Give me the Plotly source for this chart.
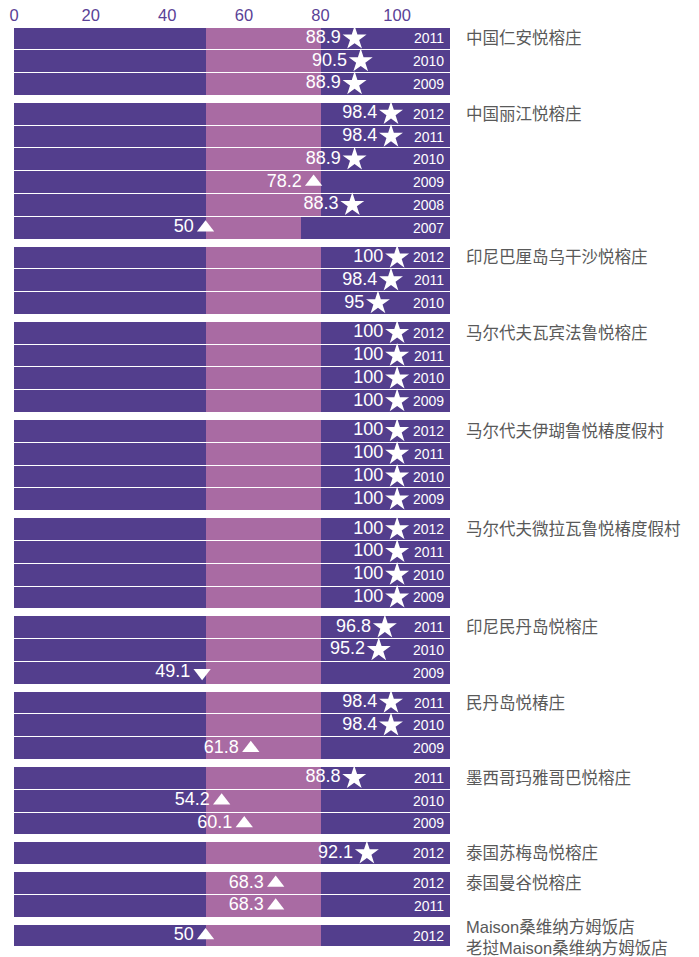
import plotly.graph_objects as go

# ---------------- data ----------------
hotels = [
    "中国仁安悦榕庄",
    "中国丽江悦榕庄",
    "印尼巴厘岛乌干沙悦榕庄",
    "马尔代夫瓦宾法鲁悦榕庄",
    "马尔代夫伊瑚鲁悦椿度假村",
    "马尔代夫微拉瓦鲁悦椿度假村",
    "印尼民丹岛悦榕庄",
    "民丹岛悦椿庄",
    "墨西哥玛雅哥巴悦榕庄",
    "泰国苏梅岛悦榕庄",
    "泰国曼谷悦榕庄",
    "Maison桑维纳方姆饭店<br>老挝Maison桑维纳方姆饭店",
]
years = [
    [2011, 2010, 2009],
    [2012, 2011, 2010, 2009, 2008, 2007],
    [2012, 2011, 2010],
    [2012, 2011, 2010, 2009],
    [2012, 2011, 2010, 2009],
    [2012, 2011, 2010, 2009],
    [2011, 2010, 2009],
    [2011, 2010, 2009],
    [2011, 2010, 2009],
    [2012],
    [2012, 2011],
    [2012],
]
scores = [
    [88.9, 90.5, 88.9],
    [98.4, 98.4, 88.9, 78.2, 88.3, 50],
    [100, 98.4, 95],
    [100, 100, 100, 100],
    [100, 100, 100, 100],
    [100, 100, 100, 100],
    [96.8, 95.2, 49.1],
    [98.4, 98.4, 61.8],
    [88.8, 54.2, 60.1],
    [92.1],
    [68.3, 68.3],
    [50],
]
band_low = 50
band_high = 80
band_high_override = {(1, 2007): 75}
scale_max = 113.8

# ---------------- styling ----------------
PURPLE = "#533e8d"
PINK = "#a96ba3"
NAME_GRAY = "#595959"
TICK_PURPLE = "#5a4196"
GAP = 0.307  # gap between groups in row units

rows_y, rows_val, rows_year, rows_band = [], [], [], []
group_first_y = []
pos = 0.0
for gi, (yrs, vals) in enumerate(zip(years, scores)):
    group_first_y.append(pos)
    for yr, v in zip(yrs, vals):
        rows_y.append(pos)
        rows_val.append(v)
        rows_year.append(yr)
        rows_band.append(band_high_override.get((gi, yr), band_high) - band_low)
        pos += 1
    pos += GAP
total = pos - GAP

def symbol_for(v):
    if v > band_high:
        return "star"
    if v >= band_low:
        return "triangle-up"
    return "triangle-down"

symbols = [symbol_for(v) for v in rows_val]
sizes = [18 if s == "star" else 15 for s in symbols]

fig = go.Figure()
bw = 1 - 0.045
fig.add_trace(go.Bar(
    x=[scale_max] * len(rows_y), y=rows_y, orientation="h", width=bw,
    marker=dict(color=PURPLE, line=dict(width=0)), hoverinfo="skip", showlegend=False,
))
fig.add_trace(go.Bar(
    x=rows_band, base=[band_low] * len(rows_y), y=rows_y, orientation="h", width=bw,
    marker=dict(color=PINK, line=dict(width=0)), hoverinfo="skip", showlegend=False,
))
fig.add_trace(go.Scatter(
    x=rows_val, y=rows_y, mode="markers+text",
    text=[("%g" % v) + "\u200a" for v in rows_val], textposition="middle left",
    textfont=dict(family="Liberation Sans, Arial, sans-serif", size=18, color="white"),
    marker=dict(symbol=symbols, size=sizes, color="white", opacity=1, line=dict(width=0)),
    showlegend=False, cliponaxis=False,
))

W, H = 699, 957
ML, MR, MT, MB = 14, 249, 27, 10
plot_w = W - ML - MR

annotations = []
for y, yr in zip(rows_y, rows_year):
    annotations.append(dict(
        x=112.8, y=y, xref="x", yref="y", text=str(yr), showarrow=False,
        xanchor="right", yanchor="middle",
        font=dict(family="Liberation Sans, Arial, sans-serif", size=14, color="white"),
    ))
name_x = 1 + 14.0 / plot_w
for name, gy in zip(hotels, group_first_y):
    multi = "<br>" in name
    annotations.append(dict(
        x=name_x, y=gy + (0.1 if multi else 0), xref="paper", yref="y", text=name,
        showarrow=False, xanchor="left", yanchor="middle", align="left",
        font=dict(family="Liberation Sans, Noto Sans CJK SC, sans-serif", size=16.5, color=NAME_GRAY),
    ))

fig.update_layout(
    width=W, height=H,
    margin=dict(l=ML, r=MR, t=MT, b=MB, autoexpand=False),
    paper_bgcolor="white", plot_bgcolor="white",
    barmode="overlay", bargap=0,
    annotations=annotations,
    xaxis=dict(
        range=[0, scale_max], side="top", tickvals=[0, 20, 40, 60, 80, 100],
        showgrid=False, zeroline=False, showline=False, ticks="",
        ticklabelstandoff=2,
        tickfont=dict(family="Liberation Sans, Arial, sans-serif", size=16.5, color=TICK_PURPLE),
        fixedrange=True,
    ),
    yaxis=dict(
        range=[total - 0.5, -0.5], showticklabels=False, showgrid=False,
        zeroline=False, showline=False, ticks="", fixedrange=True,
    ),
)

fig.write_html(
    "out.html",
    config={"displayModeBar": False},
    post_script="document.body.style.margin='0';document.body.style.overflow='hidden';",
)
